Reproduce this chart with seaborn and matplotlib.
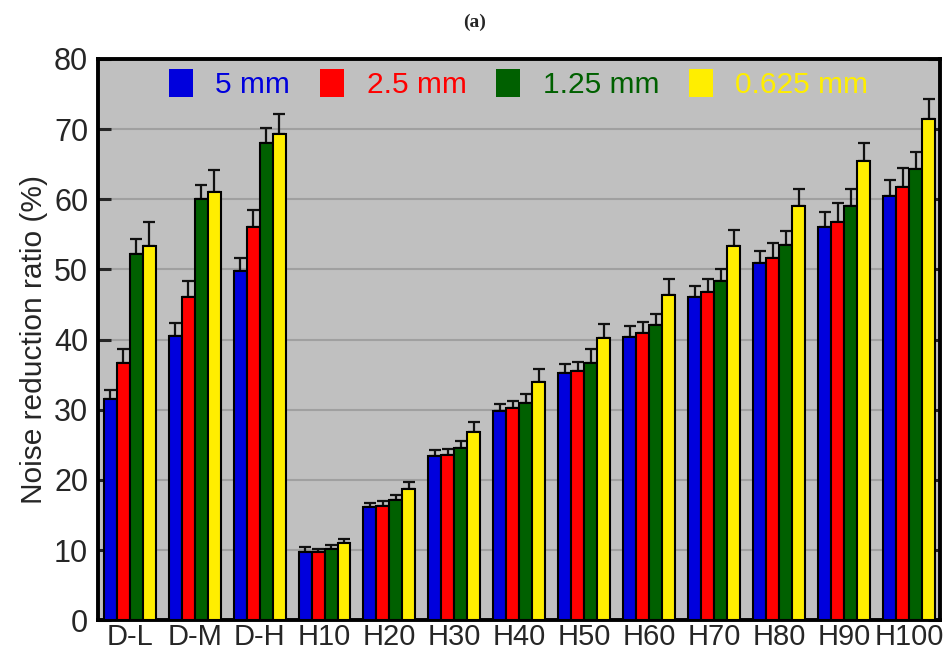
import matplotlib
matplotlib.use("Agg")
import matplotlib.pyplot as plt
import seaborn as sns
import pandas as pd
import numpy as np
from matplotlib.patches import Patch

categories = ["D-L", "D-M", "D-H", "H10", "H20", "H30", "H40", "H50", "H60", "H70", "H80", "H90", "H100"]
series_names = ["5 mm", "2.5 mm", "1.25 mm", "0.625 mm"]
colors = ["#0000dd", "#ff0000", "#006000", "#ffee00"]

v_5 = [31.5, 40.5, 49.8, 9.8, 16.2, 23.4, 29.8, 35.2, 40.4, 46.1, 50.9, 56.1, 60.5]
v_25 = [36.6, 46.1, 56.0, 9.7, 16.3, 23.6, 30.2, 35.5, 40.9, 46.8, 51.6, 56.8, 61.7]
v_125 = [52.2, 60.0, 68.0, 10.2, 17.2, 24.5, 31.0, 36.7, 42.1, 48.3, 53.5, 59.1, 64.3]
v_0625 = [53.4, 61.1, 69.3, 11.0, 18.7, 26.8, 34.0, 40.3, 46.4, 53.3, 59.0, 65.5, 71.4]

e_5 = [1.3, 1.8, 1.8, 0.7, 0.5, 0.8, 1.0, 1.3, 1.5, 1.6, 1.8, 2.1, 2.3]
e_25 = [2.0, 2.2, 2.5, 0.4, 0.7, 0.8, 1.1, 1.3, 1.6, 1.8, 2.2, 2.6, 2.8]
e_125 = [2.1, 2.1, 2.1, 0.6, 0.7, 1.1, 1.3, 2.0, 1.6, 1.8, 2.0, 2.3, 2.5]
e_0625 = [3.4, 3.1, 2.8, 0.6, 1.0, 1.5, 1.8, 1.9, 2.2, 2.3, 2.5, 2.5, 2.9]

values = [v_5, v_25, v_125, v_0625]
errors = [e_5, e_25, e_125, e_0625]

df = pd.DataFrame({
    "cat": np.repeat([categories], 4, axis=0).ravel(),
    "series": np.repeat(series_names, len(categories)),
    "val": np.concatenate(values),
    "err": np.concatenate(errors),
})

sns.set_theme(style="white")
plt.rcParams["font.family"] = ["Liberation Sans Narrow", "Liberation Sans", "DejaVu Sans"]

fig = plt.figure(figsize=(9.5, 6.55), dpi=100)
ax = fig.add_axes([0.103, 0.053, 0.886, 0.857])
ax.set_facecolor("#c0c0c0")

sns.barplot(data=df, x="cat", y="val", hue="series", order=categories,
            hue_order=series_names, palette=colors, width=0.8, dodge=True,
            errorbar=None, edgecolor="black", linewidth=1.5, saturation=1,
            ax=ax, legend=False, zorder=3)

# error bars (upper only) positioned from the bar patches
for container, name in zip(ax.containers, series_names):
    sub = df[df["series"] == name].set_index("cat").loc[categories]
    xs = [p.get_x() + p.get_width() / 2 for p in container.patches]
    hs = [p.get_height() for p in container.patches]
    errs = sub["err"].values
    ax.errorbar(xs, hs, yerr=[np.zeros_like(errs), errs], fmt="none",
                ecolor="#111111", elinewidth=1.6, capsize=4, capthick=1.6, zorder=2)

ax.set_ylim(0, 80)
ax.set_xlim(-0.49, 12.47)
ax.set_yticks(range(0, 81, 10))
ax.yaxis.grid(True, color="#a0a0a0", linewidth=1.5, zorder=0)
ax.set_axisbelow(True)
for s in ax.spines.values():
    s.set_linewidth(2.8)
    s.set_color("black")
ax.tick_params(axis="y", which="both", direction="in", length=9, width=2.2,
               left=True, right=True, labelsize=22, pad=7)
ax.tick_params(axis="x", length=0, labelsize=21, pad=2)
ax.set_xlabel("")
ax.set_ylabel("Noise reduction ratio (%)", fontsize=21.5,
              family=["Liberation Sans", "DejaVu Sans"], labelpad=4)

handles = [Patch(facecolor=c, edgecolor="none") for c in colors]
leg = ax.legend(handles, series_names, loc="upper center", ncol=4, frameon=False,
                fontsize=21.5, handlelength=0.8, handleheight=1.05, handletextpad=0.75,
                columnspacing=1.0, bbox_to_anchor=(0.5, 1.03))
for t, c in zip(leg.get_texts(), colors):
    t.set_color(c)

fig.text(0.5, 0.966, "(a)", ha="center", va="center", fontsize=14,
         family=["Liberation Serif", "DejaVu Serif"], fontweight="bold")

fig.savefig("out.png", dpi=100)
